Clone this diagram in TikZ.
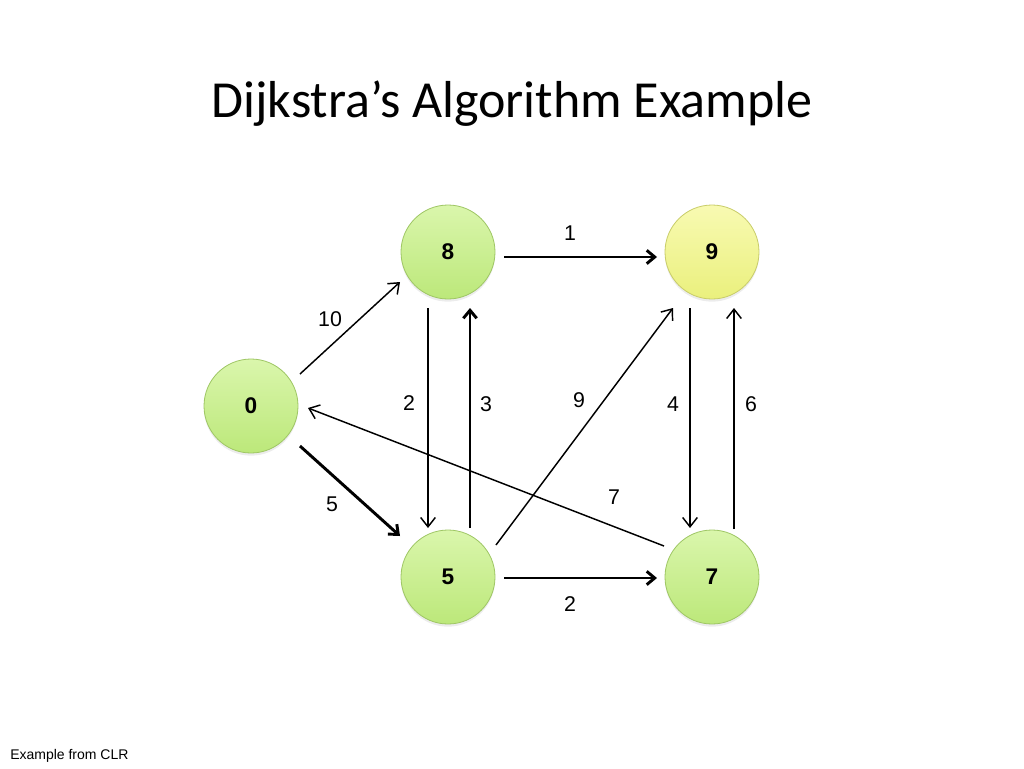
\documentclass[tikz,border=0pt]{standalone}
\usepackage{fontspec}
\setmainfont{Carlito}
\newfontfamily\arialf{Liberation Sans}
\usetikzlibrary{arrows.meta,calc,shadows}
\definecolor{gtop}{RGB}{218,246,172}
\definecolor{gbot}{RGB}{188,232,122}
\definecolor{gbrd}{RGB}{158,198,100}
\definecolor{ytop}{RGB}{248,250,178}
\definecolor{ybot}{RGB}{234,240,125}
\definecolor{ybrd}{RGB}{200,204,105}
\tikzset{
  vert/.style={circle, minimum size=70.5pt, inner sep=0pt, draw=gbrd, line width=0.6pt,
    top color=gtop, bottom color=gbot, font=\arialf\bfseries\fontsize{17}{19}\selectfont,
    drop shadow={opacity=0.15, shadow xshift=0pt, shadow yshift=-2pt}},
  yvert/.style={vert, draw=ybrd, top color=ytop, bottom color=ybot},
  thinedge/.style={line width=1.1pt, -{Straight Barb[length=7pt,width=11pt]}},
  thickedge/.style={line width=2.2pt, -{Straight Barb[length=6pt,width=10pt]}},
  wlabel/.style={font=\arialf\fontsize{16}{18}\selectfont, inner sep=0pt},
}
\begin{document}
\begin{tikzpicture}[x=0.75pt,y=-0.75pt]
\useasboundingbox (0,0) rectangle (1024,768);
\node[anchor=base, font=\fontsize{39}{44}\selectfont] (title) at (512,117) {Dijkstra’s Algorithm Example};
\node[anchor=base west, font=\arialf\fontsize{10.5}{12}\selectfont, inner sep=0pt] (foot) at (10,759) {Example from CLR};

\node[vert] (n0) at (251,406) {0};
\node[vert] (n8) at (448,252) {8};
\node[yvert] (n9) at (712,252) {9};
\node[vert] (n5) at (448,577) {5};
\node[vert] (n7) at (712,577) {7};

\draw[thinedge]  ($(n0)+(49,-32)$) -- ($(n8)+(-48,30)$);
\draw[thickedge] ($(n0)+(49,40)$)  -- ($(n5)+(-48,-41)$);
\draw[thickedge] ($(n8)+(56,5)$)   -- ($(n9)+(-55,5)$);
\draw[thinedge]  ($(n8)+(-20,56)$) -- ($(n5)+(-20,-49)$);
\draw[thickedge] ($(n5)+(22,-49)$) -- ($(n8)+(22,56)$);
\draw[thinedge]  ($(n5)+(48,-32)$) -- ($(n9)+(-39,56)$);
\draw[thinedge]  ($(n9)+(-22,56)$) -- ($(n7)+(-22,-49)$);
\draw[thinedge]  ($(n7)+(22,-48)$) -- ($(n9)+(22,56)$);
\draw[thinedge]  ($(n7)+(-48,-31)$) -- ($(n0)+(57,2)$);
\draw[thickedge] ($(n5)+(56,1)$)   -- ($(n7)+(-55,1)$);

\node[wlabel] (l1)  at (570,233) {1};
\node[wlabel] (l10) at (330,319) {10};
\node[wlabel] (l2a) at (409,403) {2};
\node[wlabel] (l3)  at (486,404) {3};
\node[wlabel] (l9)  at (579,400) {9};
\node[wlabel] (l4)  at (673,404) {4};
\node[wlabel] (l6)  at (751,404) {6};
\node[wlabel] (l7)  at (614,497) {7};
\node[wlabel] (l5)  at (332,504) {5};
\node[wlabel] (l2b) at (570,604) {2};
\end{tikzpicture}
\end{document}
